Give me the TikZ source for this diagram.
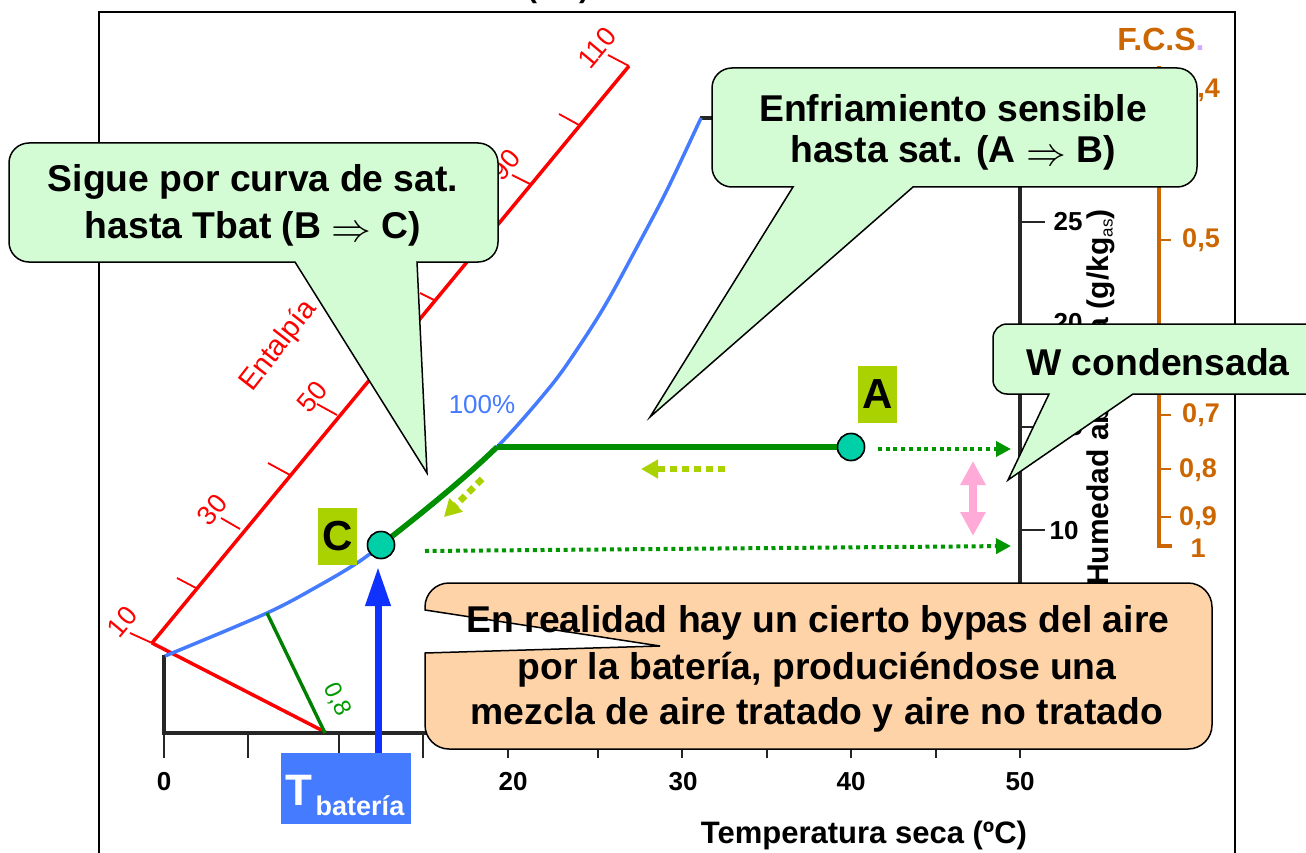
\documentclass[tikz,border=0pt]{standalone}
\usepackage{fontspec}
\usepackage{graphicx}
\setmainfont{Liberation Sans}
\usetikzlibrary{arrows.meta}
\definecolor{calloutgreen}{RGB}{212,252,212}
\definecolor{calloutpeach}{RGB}{255,211,168}
\definecolor{redline}{RGB}{255,0,0}
\definecolor{satblue}{RGB}{68,123,255}
\definecolor{procgreen}{RGB}{0,143,0}
\definecolor{dotgreen}{RGB}{0,150,0}
\definecolor{lime}{RGB}{170,210,0}
\definecolor{fcsorange}{RGB}{204,102,0}
\definecolor{teal2}{RGB}{0,208,168}
\definecolor{arrowblue}{RGB}{16,50,255}
\definecolor{pinkarrow}{RGB}{255,170,215}
\newcommand{\fs}[1]{\fontsize{#1}{#1}\selectfont}
\newcommand{\bigimp}{\raisebox{-3pt}{\scalebox{1.6}{$\Rightarrow$}}}
\tikzset{
  x=1pt,y=-1pt,
  axisline/.style={draw=black!85,line width=3.4pt},
  axistick/.style={draw=black!85,line width=2.5pt},
  enthline/.style={draw=redline,line width=3.5pt},
  enthtick/.style={draw=redline,line width=1.8pt},
  enthlabel/.style={text=redline,font=\fs{27},rotate=50,inner sep=0pt},
  enthtitle/.style={text=redline,font=\fs{29},rotate=52,inner sep=0pt,anchor=west},
  fcsline/.style={draw=fcsorange,line width=3.2pt},
  fcstick/.style={draw=fcsorange,line width=2.2pt},
  fcslabel/.style={text=fcsorange,font=\bfseries\fs{27},inner sep=0pt},
  ticklabel/.style={text=black,font=\bfseries\fs{26},inner sep=0pt},
  callg/.style={draw=black,line width=1.5pt,fill=calloutgreen,line join=miter},
  callp/.style={draw=black,line width=1.5pt,fill=calloutpeach,line join=miter},
  calltext/.style={text=black,font=\bfseries\fs{37.3},inner sep=0pt},
  pointdot/.style={circle,draw=black,line width=1.5pt,fill=teal2,minimum size=27pt,inner sep=0pt},
  tagbox/.style={fill=lime,text=black,font=\bfseries\fs{42},inner sep=0pt,minimum width=39pt,minimum height=57pt},
  procline/.style={draw=procgreen,line width=5.5pt},
  dotarrow/.style={draw=dotgreen,line width=4pt,dash pattern=on 4pt off 3.7pt,-{Triangle[length=15pt,width=15pt,fill=dotgreen]}},
  limearrow/.style={draw=lime,line width=6.5pt,dash pattern=on 7pt off 5pt,-{Triangle[length=17pt,width=18pt,fill=lime]}},
}
\begin{document}
\begin{tikzpicture}
\useasboundingbox (0,0) rectangle (1306,853);
\clip (0,0) rectangle (1306,853);
\fill[white] (0,0) rectangle (1306,853);
% clipped title remnant
\node[font=\bfseries\fs{30},anchor=south,inner sep=0pt] (toptext) at (558,4) {(\hspace{42pt})};
% frame
\draw[black,line width=2.2pt] (99,860) -- (99,12) -- (1235,12) -- (1235,860);
% enthalpy axis
\coordinate (e10) at (152,643);
\coordinate (e110) at (629,66);
\draw[enthline] (e10) -- (e110);
\draw[enthline] (e10) -- (327,733);
\foreach \ax/\ay/\bx/\by in {152/643/130/633,196/588/177/578,240/529/221/518,290/475/268/463,337/415/317/404,385/358/365/347,434/300/420/293,482/242/462/231,530/184/512/175,579/125/559/114,629/66/608/55}
  \draw[enthtick] (\ax,\ay) -- (\bx,\by);
\node[enthlabel] (l10) at (122,622) {10};
\node[enthlabel] (l30) at (212,510) {30};
\node[enthlabel] (l50) at (312,397) {50};
\node[enthlabel] (l90) at (505,165) {90};
\node[enthlabel] (l110) at (597,48) {110};
\node[enthtitle] (lent) at (246,388) {Entalpía};
% axes
\draw[axisline] (164,655) -- (164,733) -- (1020,733) -- (1020,118) -- (700,118);
\foreach \tx in {164,248,339,423,508,598,682,767,851,936,1020}
  \draw[axistick] (\tx,733) -- (\tx,758);
\node[ticklabel] (x0) at (164,782) {0};
\node[ticklabel] (x20) at (513,782) {20};
\node[ticklabel] (x30) at (683,782) {30};
\node[ticklabel] (x40) at (851,782) {40};
\node[ticklabel] (x50) at (1020,782) {50};
\node[text=black,font=\bfseries\fs{31},inner sep=0pt] (xtitle) at (864,835) {Temperatura seca (ºC)};
\foreach \ty in {222,325,427,530}
  \draw[axistick] (1020,\ty) -- (1045,\ty);
\node[ticklabel] (y25) at (1068,222) {25};
\node[ticklabel] (y20) at (1068,323) {20};
\node[ticklabel] (y15) at (1068,427) {15};
\node[ticklabel] (y10) at (1064,531) {10};
\node[rotate=90,font=\bfseries\fs{30},inner sep=0pt,anchor=west] (ytitle) at (1101,586) {Humedad absoluta (g/kg\raisebox{-4pt}{\fs{17}\mdseries as})};
% FCS axis
\draw[fcsline] (1159,66) -- (1159,546) -- (1172,546);
\foreach \ty in {90,240,330,415,469,517}
  \draw[fcstick] (1159,\ty) -- (1171,\ty);
\node[fcslabel] (f4) at (1201,90) {0,4};
\node[fcslabel] (f5) at (1201,240) {0,5};
\node[fcslabel] (f7) at (1201,415) {0,7};
\node[fcslabel] (f8) at (1198,470) {0,8};
\node[fcslabel] (f9) at (1198,518) {0,9};
\node[fcslabel] (f1) at (1198,548) {1};
\node[font=\bfseries\fs{32},inner sep=0pt,text=fcsorange] (fcs) at (1161,39) {F.C.S\textcolor[RGB]{204,170,255}{.}};
% saturation curve
\draw[satblue,line width=3.5pt,line join=round] plot[smooth,tension=0.55] coordinates {(165,656) (267,613) (320,585) (357,563) (381,545) (440,497) (497,447) (550,387) (580,345) (607,302) (637,247) (667,190) (701,118)};
\node[text=satblue,font=\fs{26},inner sep=0pt] (pct) at (482,405) {100\%};
% 0,8 line
\draw[draw=green!50!black,line width=3.4pt] (267,613) -- (325,733);
\node[text=green!60!black,font=\fs{24},rotate=-65,inner sep=0pt] (l08) at (337,700) {0,8};
% process
\node[pointdot] (A) at (851,447) {};
\node[pointdot] (C) at (381,545) {};
\coordinate (B) at (497,447);
\draw[procline] (A) -- (B);
\draw[procline,line join=round] (B) .. controls (465,478) and (428,508) .. (C);
\node[pointdot] at (A) {};
\node[pointdot] at (C) {};
\node[tagbox] (tagA) at (877.5,394.5) {A};
\node[tagbox] (tagC) at (337.5,536.5) {C};
% dotted arrows
\coordinate (d1s) at (878,449); \coordinate (d1e) at (1011,449);
\coordinate (d2s) at (425,551); \coordinate (d2e) at (1011,546);
\draw[dotarrow] (d1s) -- (d1e);
\draw[dotarrow] (d2s) -- (d2e);
\coordinate (l1s) at (725,469); \coordinate (l1e) at (641,469);
\coordinate (l2s) at (482,479); \coordinate (l2e) at (444,517);
\draw[limearrow] (l1s) -- (l1e);
\draw[limearrow] (l2s) -- (l2e);
% pink arrow
\coordinate (p1) at (973,461); \coordinate (p2) at (973,536);
\draw[draw=pinkarrow,line width=8pt,{Triangle[length=24pt,width=24pt,fill=pinkarrow]}-{Triangle[length=24pt,width=24pt,fill=pinkarrow]}] (p1) -- (p2);
% blue arrow and T box
\node[fill=satblue,inner sep=0pt,minimum width=130pt,minimum height=71pt] (tbox) at (346,788.5) {};
\coordinate (bt) at (378,567);
\draw[draw=arrowblue,line width=7pt,-{Triangle[length=39pt,width=24pt,fill=arrowblue]}] (378,753) -- (bt);
\node[text=white,font=\bfseries\fs{44},inner sep=0pt] (tT) at (299,790) {T};
\node[text=white,font=\bfseries\fs{27},inner sep=0pt] (tbat) at (360,806) {batería};
% callouts
\draw[callg] (427,473) -- (295,262) [rounded corners=20pt] -- (9,262) -- (9,143) -- (498,143) -- (498,262) [sharp corners] -- (417,262) -- cycle;
\node[calltext] (c1a) at (253,182) {Sigue por curva de sat.};
\node[calltext] (c1b) at (253,229) {hasta Tbat (B \bigimp{} C)};
\draw[callg] (650,417) -- (793,187) [rounded corners=20pt] -- (712,187) -- (712,68) -- (1197,68) -- (1197,187) [sharp corners] -- (913,187) -- cycle;
\node[calltext] (c2a) at (953,108) {Enfriamiento sensible};
\node[calltext] (c2b) at (953,153) {hasta sat. (A \bigimp{} B)};
\draw[callg] (1008,480) -- (1049,394) [rounded corners=14pt] -- (993,394) -- (993,324) -- (1340,324) -- (1340,394) [sharp corners] -- (1133,394) -- cycle;
\node[calltext] (c3) at (1158,362) {W condensada};
\draw[callp] (660,646) -- (425,653) [rounded corners=24pt] -- (425,749) -- (1212,749) -- (1212,583) -- (425,583) [sharp corners] -- (425,610) -- cycle;
\node[calltext] (c4a) at (818,623) {En realidad hay un cierto bypas del aire};
\node[calltext] (c4b) at (817,670) {por la batería, produciéndose una};
\node[calltext] (c4c) at (817,715) {mezcla de aire tratado y aire no tratado};
\end{tikzpicture}
\end{document}
